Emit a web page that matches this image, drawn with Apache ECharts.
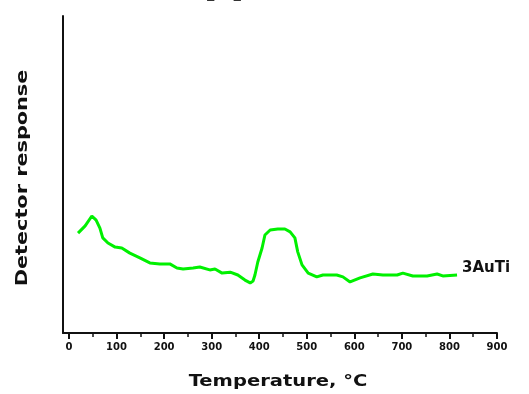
<!DOCTYPE html>
<html>
<head>
<meta charset="utf-8">
<script src="https://cdn.jsdelivr.net/npm/echarts@6/dist/echarts.min.js"></script>
<style>html,body{margin:0;padding:0;background:#fff}#c{width:529px;height:394px}</style>
</head>
<body>
<div id="c"></div>
<script>
// Data
const temperature = [19,34,48,57,65,71,82,97,111,128,149,170,191,212,227,240,261,275,296,307,322,339,355,370,381,387,391,397,406,412,423,439,454,465,475,481,490,503,521,534,563,576,591,612,639,660,690,702,723,753,774,786,816];
const response = [31.5,33.8,36.9,35.6,33.1,30.0,28.4,27.1,26.8,25.2,23.7,22.1,21.8,21.8,20.5,20.2,20.5,20.8,19.9,20.2,18.9,19.2,18.3,16.7,15.8,16.4,18.3,22.4,26.8,30.9,32.5,32.8,32.8,31.9,30.0,25.6,21.5,18.9,17.7,18.3,18.3,17.7,16.1,17.4,18.6,18.3,18.3,18.9,18.0,18.0,18.6,18.0,18.3];
const xMin = 0, xMax = 900, xStep = 100, xMinorStep = 50;
const seriesName = '3AuTi';
const xTitle = 'Temperature, °C';
const yTitle = 'Detector response';

const chart = echarts.init(document.getElementById('c'));
const font = 'DejaVu Sans';
const axisColor = '#111';
const hiddenY = (g) => ({gridIndex: g, type: 'value', min: 0, max: 1, show: false});
const tickX = (g, step, w) => ({
  gridIndex: g, type: 'value', min: xMin, max: xMax, interval: step,
  axisLine: {show: false}, axisTick: {show: false}, axisLabel: {show: false},
  splitLine: {show: true, lineStyle: {color: axisColor, width: w, type: 'solid'}}
});
chart.setOption({
  animation: false,
  grid: [
    {left: 63, right: 32, top: 16, bottom: 61},
    {left: 69, right: 32, top: 16, bottom: 61},
    {left: 69, right: 32, top: 333, height: 6},
    {left: 69, right: 32, top: 333, height: 4}
  ],
  xAxis: [
    {
      gridIndex: 0, type: 'value', min: 0, max: 1,
      axisLine: {show: true, onZero: false, lineStyle: {color: axisColor, width: 2}},
      axisTick: {show: false}, axisLabel: {show: false}, splitLine: {show: false}
    },
    {
      gridIndex: 1, type: 'value', min: xMin, max: xMax, interval: xStep,
      axisLine: {show: false, onZero: false},
      axisTick: {show: false},
      axisLabel: {show: true, color: axisColor, fontFamily: font, fontWeight: 'bold', fontSize: 10, margin: 9},
      splitLine: {show: false}
    },
    tickX(2, xStep, 2),
    tickX(3, xMinorStep, 1.5)
  ],
  yAxis: [
    {
      gridIndex: 0, type: 'value', min: 0, max: 1,
      axisLine: {show: true, onZero: false, lineStyle: {color: axisColor, width: 2}},
      axisTick: {show: false}, axisLabel: {show: false}, splitLine: {show: false}
    },
    {
      gridIndex: 1, type: 'value', min: 0, max: 100,
      axisLine: {show: false}, axisTick: {show: false}, axisLabel: {show: false}, splitLine: {show: false}
    },
    hiddenY(2),
    hiddenY(3)
  ],
  graphic: [
    {type: 'text', x: 278, y: 382, scaleX: 1.22, style: {text: xTitle, font: 'bold 16px "DejaVu Sans"', fill: '#111', align: 'center', verticalAlign: 'middle'}},
    {type: 'text', x: 23, y: 178, rotation: Math.PI/2, scaleX: 1.3, style: {text: yTitle, font: 'bold 16px "DejaVu Sans"', fill: '#111', align: 'center', verticalAlign: 'middle'}},
    {type: 'text', x: 224, y: -5, scaleX: 1.5, style: {text: '[a]', font: 'bold 16px "DejaVu Sans"', fill: '#333', align: 'center', verticalAlign: 'middle'}}
  ],
  series: [{
    name: seriesName,
    type: 'line',
    xAxisIndex: 1, yAxisIndex: 1,
    data: temperature.map((t, i) => [t, response[i]]),
    showSymbol: false,
    lineStyle: {color: '#00f000', width: 3},
    endLabel: {show: true, formatter: '{a}', color: '#111', fontFamily: font, fontWeight: 'bold', fontSize: 15, distance: 5, offset: [0, -7]}
  }]
});
</script>
</body>
</html>
